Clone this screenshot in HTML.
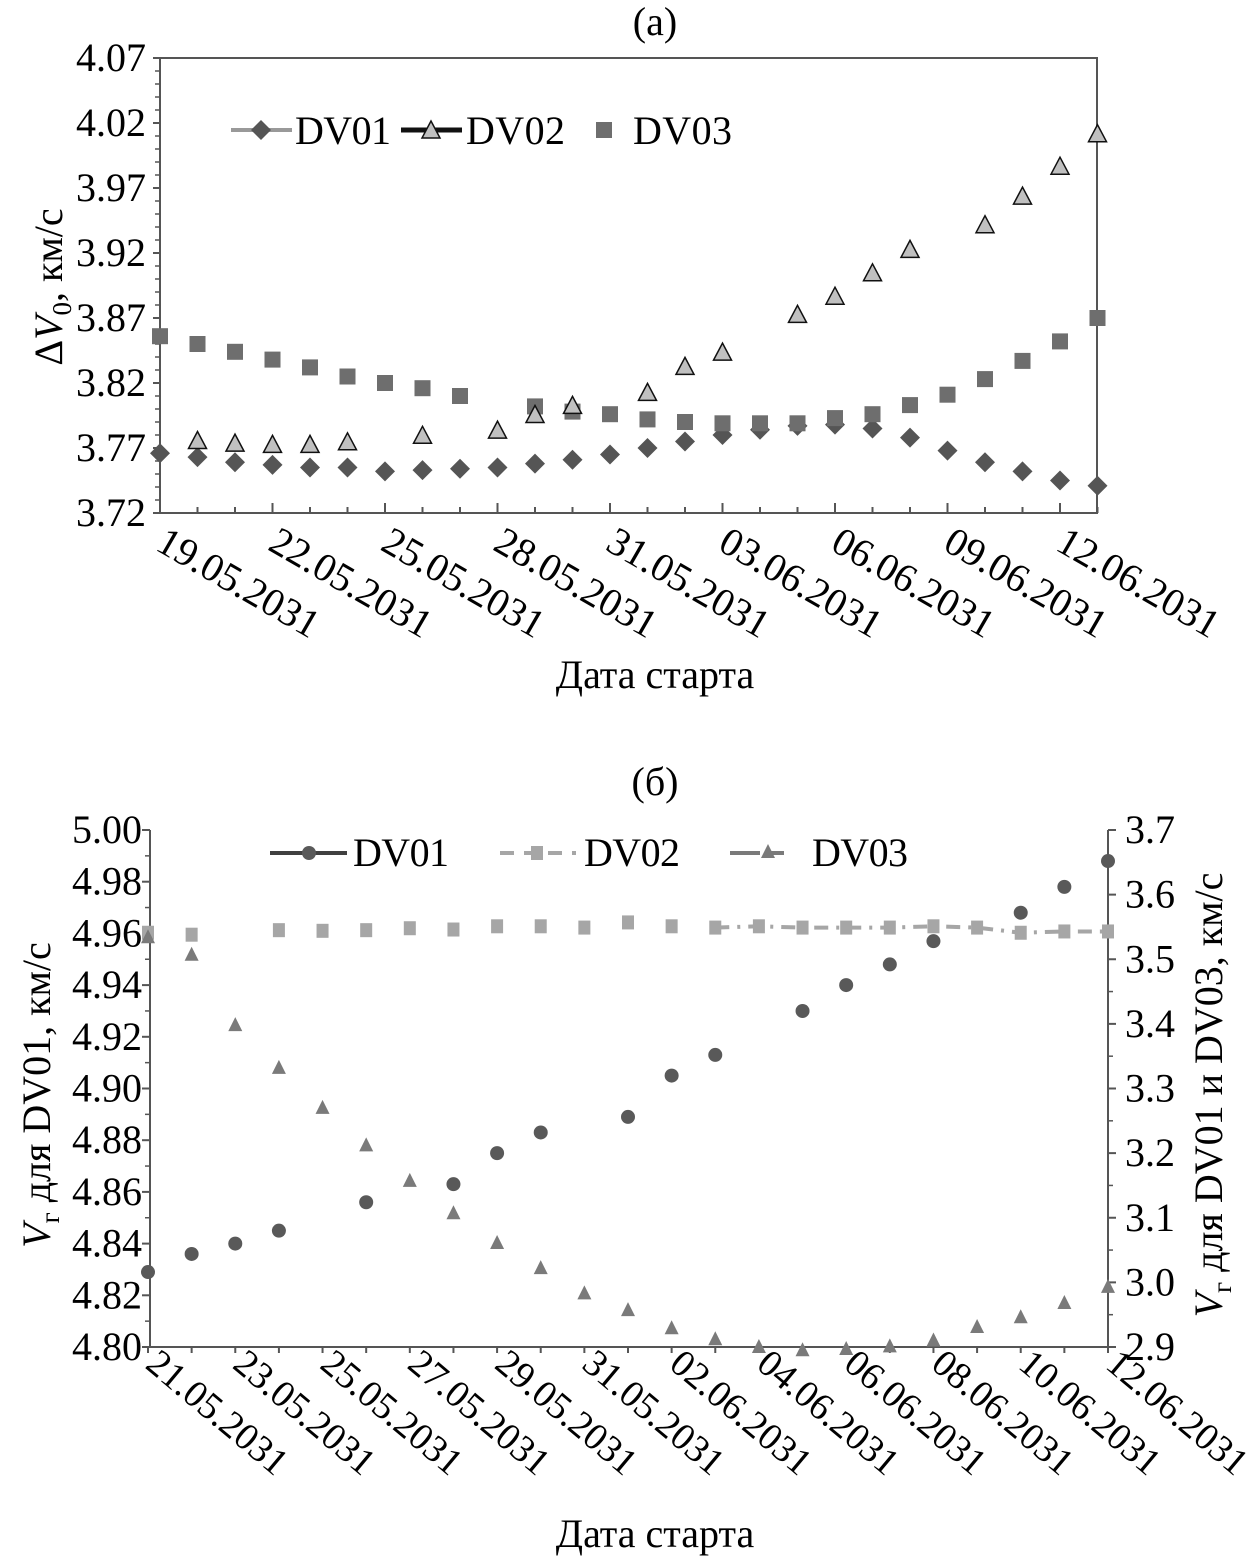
<!DOCTYPE html>
<html><head><meta charset="utf-8"><style>
html,body{margin:0;padding:0;background:#fff}
svg{display:block;font-family:"Liberation Serif","DejaVu Serif",serif}
text{font-family:"Liberation Serif","DejaVu Serif",serif}
</style></head><body>
<svg width="1259" height="1561" viewBox="0 0 1259 1561" xmlns="http://www.w3.org/2000/svg">
<g id="ca"></g>
<g id="cb"></g>
</svg>
<script>
const NS='http://www.w3.org/2000/svg';
// ---- Chart (a) data ----
const datesA=['19.05.2031','20.05','21.05','22.05.2031','23.05','24.05','25.05.2031','26.05','27.05','28.05.2031','29.05','30.05','31.05.2031','01.06','02.06','03.06.2031','04.06','05.06','06.06.2031','07.06','08.06','09.06.2031','10.06','11.06','12.06.2031','13.06'];
const aTicks=[3.72,3.77,3.82,3.87,3.92,3.97,4.02,4.07];
const aDV01=[3.766,3.763,3.759,3.757,3.755,3.755,3.752,3.753,3.754,3.755,3.758,3.761,3.765,3.770,3.775,3.780,3.784,3.787,3.788,3.785,3.778,3.768,3.759,3.752,3.745,3.741];
const aDV02=[null,3.775,3.773,3.772,3.772,3.774,null,3.779,null,3.783,3.795,3.802,null,3.812,3.832,3.843,null,3.872,3.886,3.904,3.922,null,3.941,3.963,3.986,4.011];
const aDV03=[3.856,3.850,3.844,3.838,3.832,3.825,3.820,3.816,3.810,null,3.802,3.798,3.796,3.792,3.790,3.789,3.789,3.789,3.793,3.796,3.803,3.811,3.823,3.837,3.852,3.870];
// ---- Chart (b) data ----
const datesB=['21.05.2031','22.05','23.05.2031','24.05','25.05.2031','26.05','27.05.2031','28.05','29.05.2031','30.05','31.05.2031','01.06','02.06.2031','03.06','04.06.2031','05.06','06.06.2031','07.06','08.06.2031','09.06','10.06.2031','11.06','12.06.2031'];
const bLeftTicks=[4.80,4.82,4.84,4.86,4.88,4.90,4.92,4.94,4.96,4.98,5.00];
const bRightTicks=[2.9,3.0,3.1,3.2,3.3,3.4,3.5,3.6,3.7];
const bDV01=[4.829,4.836,4.840,4.845,null,4.856,null,4.863,4.875,4.883,null,4.889,4.905,4.913,null,4.930,4.940,4.948,4.957,null,4.968,4.978,4.988];
const bDV02=[3.541,3.538,null,3.545,3.544,3.545,3.548,3.546,3.551,3.551,3.549,3.557,3.551,3.549,3.551,3.549,3.549,3.549,3.551,3.549,3.541,3.543,3.543];
const bDV03=[3.534,3.507,3.398,3.332,3.270,3.212,3.157,3.107,3.061,3.022,2.983,2.957,2.929,2.912,2.900,2.895,2.897,2.901,2.910,2.931,2.946,2.968,2.993];

function el(parent,tag,attrs,text){const e=document.createElementNS(NS,tag);for(const k in attrs)e.setAttribute(k,attrs[k]);if(text!==undefined)e.textContent=text;parent.appendChild(e);return e;}
const ca=document.getElementById('ca'), cb=document.getElementById('cb');

// ===== Chart A =====
(function(){
const L=160,R=1097,T=58,B=513,step=37.5;
const x=i=>L+i*step, y=v=>B-(v-3.72)/0.35*(B-T);
let t=el(ca,'text',{x:655,y:35,'font-size':40,'text-anchor':'middle'},'(a)');

el(ca,'path',{d:`M${L} ${T}H${R}V${B}H${L}Z`,fill:'none',stroke:'#555','stroke-width':2});
aTicks.forEach((v,i)=>{
 const tx=el(ca,'text',{x:L-14,y:y(v)+13,'font-size':40,'text-anchor':'end'},v.toFixed(2));
 
 el(ca,'line',{x1:L-7,x2:L,y1:y(v),y2:y(v),stroke:'#555','stroke-width':2});
 if(i<aTicks.length-1)for(let k=1;k<5;k++){const yy=y(v+k*0.01);el(ca,'line',{x1:L-5,x2:L,y1:yy,y2:yy,stroke:'#555','stroke-width':1.5});}
});
datesA.forEach((d,i)=>{
 const major=i%3===0;
 el(ca,'line',{x1:x(i),x2:x(i),y1:B,y2:B-(major?10:6),stroke:'#555','stroke-width':2});
 if(major){const tx=el(ca,'text',{transform:`translate(${x(i)-6},${B+36}) rotate(30)`,'font-size':40},d);
 }
});
let xt=el(ca,'text',{x:655,y:688,'font-size':40,'text-anchor':'middle'},'Дата старта');

let yt=el(ca,'text',{transform:`translate(62,287) rotate(-90)`,'font-size':40,'text-anchor':'middle'});

el(yt,'tspan',{},'Δ');el(yt,'tspan',{'font-style':'italic'},'V');el(yt,'tspan',{'font-size':27,dy:9},'0');el(yt,'tspan',{dy:-9},', км/с');
const diamond=(g,cx,cy)=>el(g,'path',{d:`M${cx} ${cy-10}L${cx+10} ${cy}L${cx} ${cy+10}L${cx-10} ${cy}Z`,fill:'#555'});
const tri=(g,cx,cy)=>el(g,'path',{d:`M${cx} ${cy-10}L${cx+9} ${cy+7}L${cx-9} ${cy+7}Z`,fill:'#c0c0c0',stroke:'#111','stroke-width':1.5});
const sq=(g,cx,cy)=>el(g,'rect',{x:cx-8,y:cy-8,width:16,height:16,fill:'#6e6e6e'});
aDV01.forEach((v,i)=>{if(v==null)return;const m=diamond(ca,x(i),y(v));});
aDV03.forEach((v,i)=>{if(v==null)return;const m=sq(ca,x(i),y(v));});
aDV02.forEach((v,i)=>{if(v==null)return;const m=tri(ca,x(i),y(v));});
// legend
const lg=el(ca,'g',{});
el(lg,'line',{x1:231,x2:292,y1:130,y2:130,stroke:'#999','stroke-width':4});diamond(lg,261,130);
el(lg,'text',{x:295,y:144,'font-size':40,textLength:96},'DV01');
el(lg,'line',{x1:401,x2:462,y1:130,y2:130,stroke:'#111','stroke-width':5});tri(lg,431,131);
el(lg,'text',{x:466,y:144,'font-size':40,textLength:99},'DV02');
sq(lg,604,130);
el(lg,'text',{x:633,y:144,'font-size':40,textLength:99},'DV03');
})();

// ===== Chart B =====
(function(){
const L=150,R=1108,T=830,B=1347,step=(1108-148)/22;
const x=i=>148+i*step, yl=v=>B-(v-4.80)/0.20*(B-T), yr=v=>B-(v-2.9)/0.8*(B-T);
let t=el(cb,'text',{x:655,y:795,'font-size':40,'text-anchor':'middle'},'(б)');

el(cb,'line',{x1:L,x2:L,y1:T,y2:B,stroke:'#555','stroke-width':2});
el(cb,'line',{x1:R,x2:R,y1:T,y2:B,stroke:'#555','stroke-width':2});
el(cb,'line',{x1:L,x2:R,y1:B,y2:B,stroke:'#555','stroke-width':2});
bLeftTicks.forEach((v,i)=>{
 const tx=el(cb,'text',{x:L-8,y:yl(v)+13,'font-size':40,'text-anchor':'end'},v.toFixed(2));
 
 el(cb,'line',{x1:L-8,x2:L,y1:yl(v),y2:yl(v),stroke:'#555','stroke-width':2});
 if(i<bLeftTicks.length-1){const yy=yl(v+0.01);el(cb,'line',{x1:L-5,x2:L,y1:yy,y2:yy,stroke:'#555','stroke-width':1.5});}
});
bRightTicks.forEach((v,i)=>{
 const tx=el(cb,'text',{x:R+17,y:yr(v)+13,'font-size':40},v.toFixed(1));
 
 el(cb,'line',{x1:R,x2:R+8,y1:yr(v),y2:yr(v),stroke:'#555','stroke-width':2});
 if(i<bRightTicks.length-1){const yy=yr(v+0.05);el(cb,'line',{x1:R,x2:R+5,y1:yy,y2:yy,stroke:'#555','stroke-width':1.5});}
});
datesB.forEach((d,i)=>{
 el(cb,'line',{x1:x(i),x2:x(i),y1:B,y2:B+6,stroke:'#555','stroke-width':2});
 if(i%2===0){const tx=el(cb,'text',{transform:`translate(${x(i)-4},${B+20}) rotate(40)`,'font-size':38},d);
 }
});
let xt=el(cb,'text',{x:655,y:1547,'font-size':40,'text-anchor':'middle'},'Дата старта');

let yt=el(cb,'text',{transform:`translate(50,1095) rotate(-90)`,'font-size':40,'text-anchor':'middle'});

el(yt,'tspan',{'font-style':'italic'},'V');el(yt,'tspan',{'font-size':27,dy:9},'г');el(yt,'tspan',{dy:-9},' для DV01, км/с');
let yt2=el(cb,'text',{transform:`translate(1222,1095) rotate(-90)`,'font-size':40,'text-anchor':'middle'});

el(yt2,'tspan',{'font-style':'italic'},'V');el(yt2,'tspan',{'font-size':27,dy:9},'г');el(yt2,'tspan',{dy:-9},' для DV01 и DV03, км/с');
// DV02 dash-dot line segment (right part)
let pts=[];bDV02.forEach((v,i)=>{if(v!=null&&i>=13)pts.push(x(i)+','+yr(v));});
const ln=el(cb,'polyline',{points:pts.join(' '),fill:'none',stroke:'#a6a6a6','stroke-width':4,'stroke-dasharray':'14 8 3 8'});

const circ=(g,cx,cy)=>el(g,'circle',{cx:cx,cy:cy,r:7,fill:'#595959'});
const rsq=(g,cx,cy)=>el(g,'rect',{x:cx-6,y:cy-7,width:12,height:14,fill:'#a6a6a6'});
const tri=(g,cx,cy)=>el(g,'path',{d:`M${cx} ${cy-8}L${cx+7} ${cy+6}L${cx-7} ${cy+6}Z`,fill:'#7a7a7a'});
bDV02.forEach((v,i)=>{if(v==null)return;const m=rsq(cb,x(i),yr(v));});
bDV03.forEach((v,i)=>{if(v==null)return;const m=tri(cb,x(i),yr(v));});
bDV01.forEach((v,i)=>{if(v==null)return;const m=circ(cb,x(i),yl(v));});
const lg=el(cb,'g',{});
el(lg,'line',{x1:270,x2:347,y1:853,y2:853,stroke:'#404040','stroke-width':4});circ(lg,309,853);
el(lg,'text',{x:353,y:866,'font-size':40,textLength:96},'DV01');
el(lg,'line',{x1:500,x2:576,y1:853,y2:853,stroke:'#a6a6a6','stroke-width':4,'stroke-dasharray':'14 10'});rsq(lg,537,853);
el(lg,'text',{x:584,y:866,'font-size':40,textLength:96},'DV02');
el(lg,'line',{x1:730,x2:806,y1:853,y2:853,stroke:'#7a7a7a','stroke-width':4,'stroke-dasharray':'30 10 14'});tri(lg,768,852);
el(lg,'text',{x:812,y:866,'font-size':40,textLength:96},'DV03');
})();
</script>
</body></html>
